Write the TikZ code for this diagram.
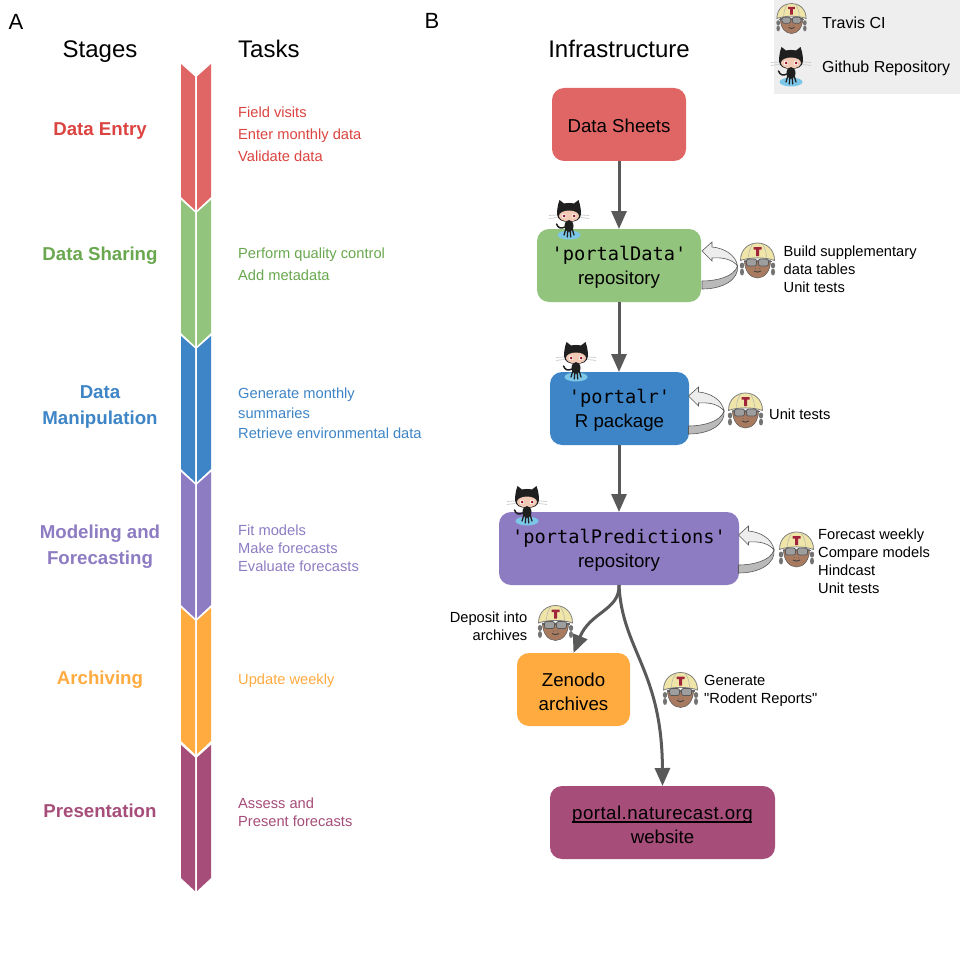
\documentclass[tikz,border=0pt]{standalone}
\usepackage{fontspec}
\setmainfont{Liberation Sans}
\newfontfamily\plainq{Liberation Sans}
\newfontfamily\sitefont[LetterSpace=2.5]{Liberation Sans}
\setmonofont{DejaVu Sans Mono}
\usetikzlibrary{arrows.meta}
\definecolor{cred}{HTML}{E06666}
\definecolor{cgreen}{HTML}{93C47D}
\definecolor{cblue}{HTML}{3D85C6}
\definecolor{cpurple}{HTML}{8E7CC3}
\definecolor{corange}{HTML}{FFAB40}
\definecolor{cmaroon}{HTML}{A64D79}
\definecolor{tred}{HTML}{DB4440}
\definecolor{tgreen}{HTML}{6AA84F}
\definecolor{arrowgrey}{HTML}{595959}
\definecolor{legendgrey}{HTML}{EEEEEE}
\definecolor{skin}{HTML}{A87A60}
\definecolor{helmet}{HTML}{EFE5A8}
\definecolor{octoskin}{HTML}{F2C9B4}
\definecolor{puddle}{HTML}{7CC6E8}
\tikzset{
  x=1pt,y=-1pt,
  box/.style={rounded corners=12pt,inner sep=0pt,outer sep=0pt},
  boxtext/.style={inner sep=0pt,yshift=-2pt,align=center,text=black,font=\fontsize{18.67}{24}\selectfont},
  stage/.style={anchor=center,align=center,font=\bfseries\fontsize{18.67}{26}\selectfont},
  head/.style={anchor=base,font=\fontsize{24}{28}\selectfont},
  letter/.style={anchor=center,font=\fontsize{22}{26}\selectfont},
  tasks/.style={anchor=west,align=left,inner sep=0pt},
  note/.style={anchor=west,align=left,inner sep=0pt,text=black,font=\fontsize{14.67}{18}\selectfont},
  flow/.style={draw=arrowgrey,line width=3pt,-{Triangle[width=15pt,length=18pt]}},
  travis/.pic={
    \fill[black!55] (-15.5,5) ellipse [x radius=2.2,y radius=3];
    \fill[black!55] (-15.5,11.5) ellipse [x radius=2,y radius=3.5];
    \fill[black!55] (15.5,5) ellipse [x radius=2.2,y radius=3];
    \fill[black!55] (15.5,11.5) ellipse [x radius=2,y radius=3.5];
    \fill[skin,draw=arrowgrey,line width=.5pt] (-13,0) .. controls (-13,11) and (-7,17.5) .. (0,17.5) .. controls (7,17.5) and (13,11) .. (13,0) -- cycle;
    \fill[helmet,draw=black!50,line width=.8pt] (-17,0) .. controls (-17,-12) and (-8,-17.5) .. (0,-17.5) .. controls (8,-17.5) and (17,-12) .. (17,0) .. controls (8,-3.5) and (-8,-3.5) .. (-17,0) -- cycle;
    \draw[black!30,line width=.5pt] (-9,-3) .. controls (-9,-9) and (-7,-13) .. (-5,-16) (9,-3) .. controls (9,-9) and (7,-13) .. (5,-16);
    \fill[cmaroon!60!red!80!black] (-4,-13.5) rectangle (4,-11) (-1.5,-13) rectangle (1.5,-4.5);
    \draw[black!60,line width=1.2pt] (-14,1) -- (14,1);
    \fill[black!38,draw=black!65,line width=.8pt,rounded corners=2pt] (-11,-1.5) rectangle (-1,5.5);
    \fill[black!38,draw=black!65,line width=.8pt,rounded corners=2pt] (1,-1.5) rectangle (11,5.5);
    \draw[black!75,line width=.9pt] (-3.5,10.5) .. controls (-1,12) and (1,12) .. (3.5,10.5);
    \fill[black!60] (-2,8) circle (.5) (2,8) circle (.5);
  },
  octo/.pic={
    \fill[puddle] (0,15) ellipse [x radius=11.5,y radius=4.5];
    \draw[black!20,line width=.7pt] (-12,-5) -- (-20,-4.5) (-12,-2.5) -- (-20,-1.5) (12,-5) -- (20,-4.5) (12,-2.5) -- (20,-1.5);
    \fill[black!88] (-9.5,-20) -- (-5,-16.5) .. controls (-2,-17.2) and (2,-17.2) .. (5,-16.5) -- (9.5,-20) .. controls (11,-16) and (12,-11) .. (12,-6) .. controls (12,0) and (6,2) .. (0,2) .. controls (-6,2) and (-12,0) .. (-12,-6) .. controls (-12,-11) and (-11,-16) .. cycle;
    \fill[octoskin] (0,-4) ellipse [x radius=10,y radius=5.5];
    \fill[white] (-5,-4) circle (2.2) (5,-4) circle (2.2);
    \fill[cmaroon!40!red!70!black] (-5,-4) circle (1.5) (5,-4) circle (1.5);
    \fill[black!88] (0,6) ellipse [x radius=4.5,y radius=6];
    \draw[black!88,line width=1.3pt,line cap=round] (-3.2,9) -- (-5,15) (-1.2,10) -- (-1.7,17) (1.2,10) -- (1.7,17) (3.2,9) -- (5,15);
    \draw[black!88,line width=1.5pt,line cap=round] (-4,7) .. controls (-8,9) and (-11,8) .. (-12.5,4);
  },
  loopback/.pic={
    \fill[black!27,draw=arrowgrey,line width=.6pt] (0,30) .. controls (14,30) and (32,26) .. (35.5,15) .. controls (37,28) and (22,38) .. (0,38) -- cycle;
    \fill[black!7,draw=arrowgrey,line width=.6pt] (0,0) -- (10,-9) -- (10,-4) .. controls (22,-3) and (34,4) .. (35.5,15) .. controls (31,9) and (22,6) .. (10,7) -- (10,10) -- cycle;
  },
}
\begin{document}
\begin{tikzpicture}
\useasboundingbox (0,0) rectangle (960,960);
\fill[white] (0,0) rectangle (960,960);
\fill[legendgrey] (774,0) rectangle (960,94);

% stage chevron
\foreach \t/\c in {64/cred,200/cgreen,336/cblue,472/cpurple,608/corange,745/cmaroon}{
  \fill[\c] (181,\t) -- (195,\t+12.5) -- (195,\t+146) -- (181,\t+133) -- cycle;
  \fill[\c] (211,\t) -- (197,\t+12.5) -- (197,\t+146) -- (211,\t+133) -- cycle;
}

\node[letter] (la) at (16,22) {A};
\node[letter] (lb) at (432,21) {B};
\node[head] (hs) at (100,58) {Stages};
\node[head,anchor=base west,inner sep=0pt] (ht) at (238,58) {Tasks};
\node[head] (hi) at (619,58) {Infrastructure};

\node[stage,text=tred] (s1) at (100,131) {Data Entry};
\node[stage,text=tgreen] (s2) at (100,256) {Data Sharing};
\node[stage,text=cblue] (s3) at (100,407) {Data\\Manipulation};
\node[stage,text=cpurple] (s4) at (100,547) {Modeling and\\Forecasting};
\node[stage,text=corange] (s5) at (100,680) {Archiving};
\node[stage,text=cmaroon] (s6) at (100,811) {Presentation};

\node[tasks,text=tred,font=\fontsize{14.67}{22}\selectfont] (t1) at (238,134) {Field visits\\Enter monthly data\\Validate data};
\node[tasks,text=tgreen,font=\fontsize{14.67}{22}\selectfont] (t2) at (238,264) {Perform quality control\\Add metadata};
\node[tasks,text=cblue,font=\fontsize{14.67}{20}\selectfont] (t3) at (238,413) {Generate monthly\\summaries\\Retrieve environmental data};
\node[tasks,text=cpurple,font=\fontsize{14.67}{18}\selectfont] (t4) at (238,548) {Fit models\\Make forecasts\\Evaluate forecasts};
\node[tasks,text=corange,font=\fontsize{14.67}{18}\selectfont] (t5) at (238,681) {Update weekly};
\node[tasks,text=cmaroon,font=\fontsize{14.67}{18}\selectfont] (t6) at (238,812) {Assess and\\Present forecasts};

\node[box,fill=cred,minimum width=134pt,minimum height=73pt,label={[boxtext,yshift=1pt]center:Data Sheets}] (sheets) at (619,124.5) {};
\node[box,fill=cgreen,minimum width=164pt,minimum height=73pt,label={[boxtext]center:{\texttt{'portalData'}\\repository}}] (pdata) at (619,265.5) {};
\node[box,fill=cblue,minimum width=139pt,minimum height=73pt,label={[boxtext]center:{\texttt{'portalr'}\\R package}}] (pr) at (619.5,408.5) {};
\node[box,fill=cpurple,minimum width=240pt,minimum height=73pt,label={[boxtext]center:{\texttt{'portalPredictions'}\\repository}}] (ppred) at (619,548.5) {};
\node[box,fill=corange,minimum width=113pt,minimum height=73pt,label={[boxtext]center:{Zenodo\\archives}}] (zen) at (573.5,689.5) {};
\node[box,fill=cmaroon,minimum width=225pt,minimum height=73pt,label={[boxtext]center:{{\sitefont portal.naturecast.org}\\website}}] (site) at (662.5,822.5) {};
\draw[black,line width=1.4pt] (572,822) -- (752,822);

\draw[flow] (sheets.south) -- (pdata.north);
\draw[flow] (pdata.south) -- (pr.north -| pdata.south);
\draw[flow] (pr.south -| ppred.north) -- (ppred.north);
\draw[flow] (ppred.south) .. controls (620,610) and (590,612) .. (zen.north);
\draw[flow] (ppred.south) .. controls (622,650) and (662,670) .. (site.north);

\pic at (702,251) {loopback};
\pic at (688.5,396) {loopback};
\pic at (738.5,535) {loopback};

\pic[scale=.86] at (791.5,18.5) {travis};
\pic at (757.5,260.5) {travis};
\pic at (745.5,410.5) {travis};
\pic at (796.5,549.5) {travis};
\pic at (555.5,623) {travis};
\pic at (680.5,690) {travis};

\pic at (791,67) {octo};
\pic at (569,220) {octo};
\pic at (576,362) {octo};
\pic at (527,506) {octo};

\node[note,font=\fontsize{16}{18}\selectfont] (lt) at (822,23) {Travis CI};
\node[note,font=\fontsize{16}{18}\selectfont] (lg) at (822,68) {Github Repository};
\node[note] (n1) at (783.5,269) {Build supplementary\\data tables\\Unit tests};
\node[note] (n2) at (769,414) {Unit tests};
\node[note] (n3) at (818,561) {Forecast weekly\\Compare models\\Hindcast\\Unit tests};
\node[note,anchor=east,align=right] (n4) at (527.5,626) {Deposit into\\archives};
\node[note] (n5) at (704,691) {Generate\\{\plainq"}Rodent Reports{\plainq"}};
\end{tikzpicture}
\end{document}
